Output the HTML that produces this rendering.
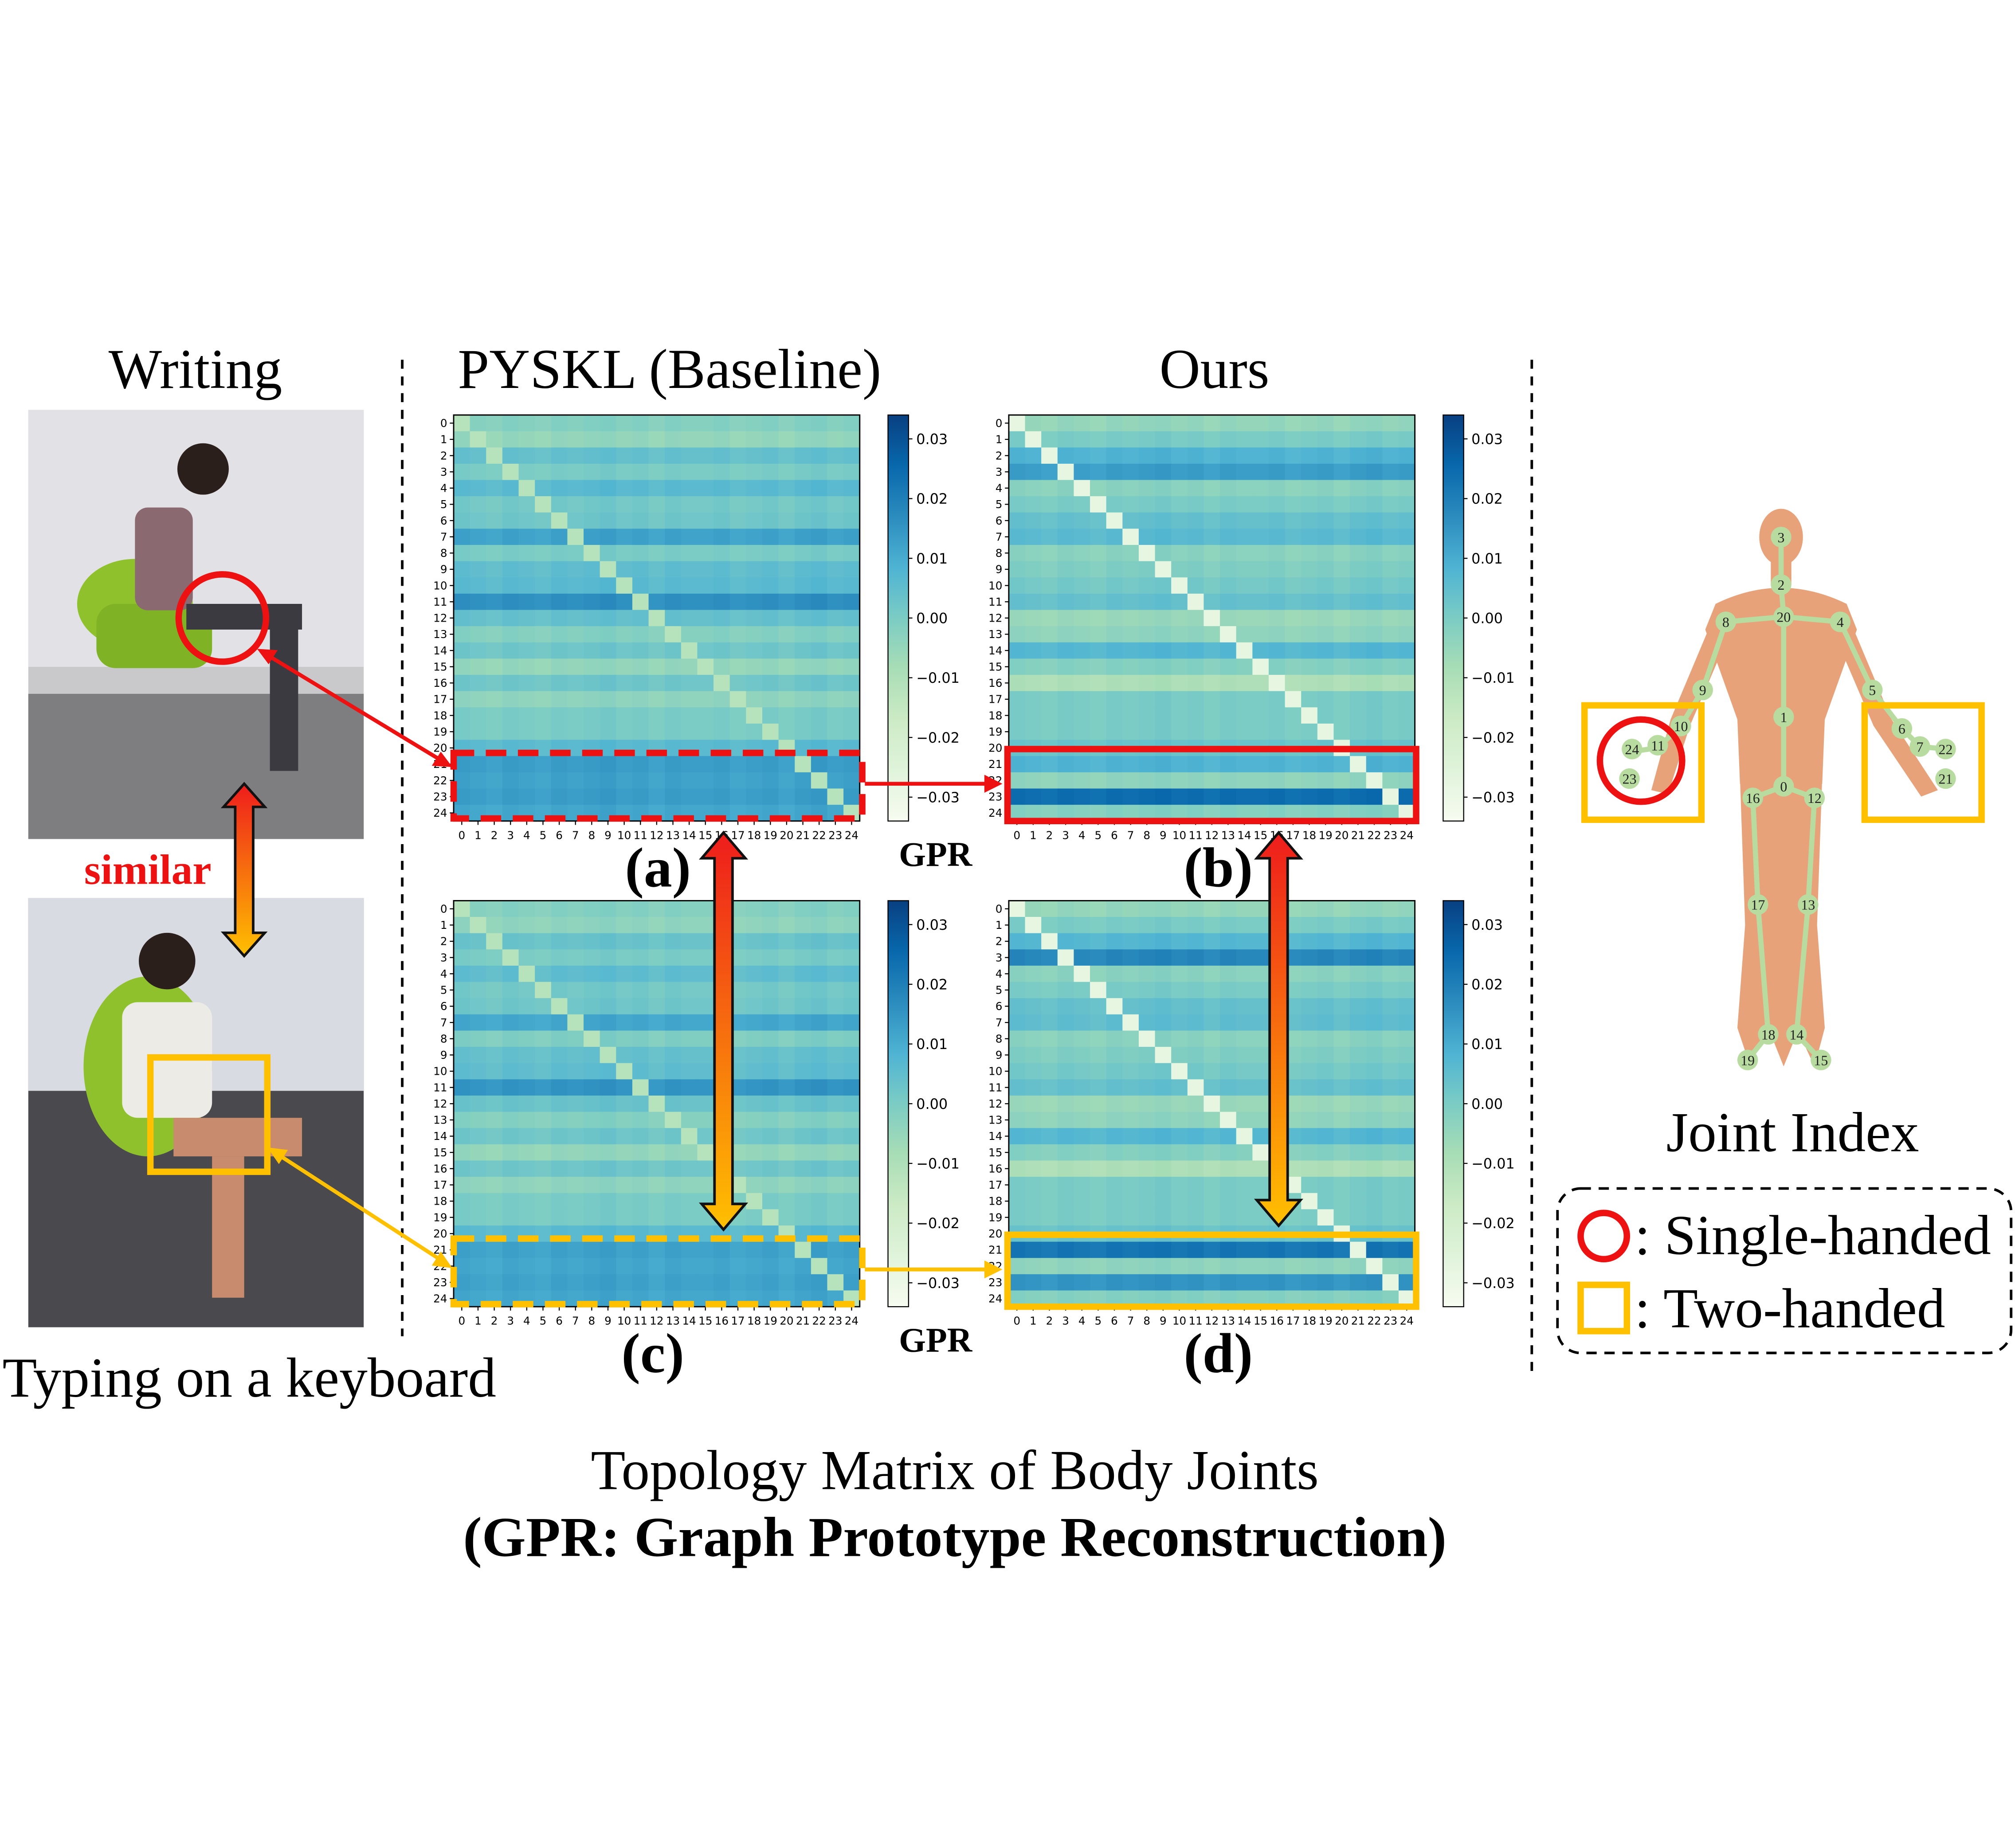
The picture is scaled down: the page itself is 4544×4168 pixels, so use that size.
<!DOCTYPE html>
<html><head><meta charset="utf-8"><style>
html,body{margin:0;padding:0;background:#fff;}
svg{display:block;}
.serif{font-family:"Liberation Serif",serif;}
.sans{font-family:"DejaVu Sans","Liberation Sans",sans-serif;}
</style></head><body>
<svg id="fig" width="4544" height="4168" viewBox="0 0 1568 1438.3" xmlns="http://www.w3.org/2000/svg">
<defs>
<linearGradient id="cbar" x1="0" y1="1" x2="0" y2="0">
<stop offset="0" stop-color="#f7fcf0"/><stop offset="0.125" stop-color="#e0f3db"/><stop offset="0.25" stop-color="#ccebc5"/><stop offset="0.375" stop-color="#a8ddb5"/><stop offset="0.5" stop-color="#7bccc4"/><stop offset="0.625" stop-color="#4eb3d3"/><stop offset="0.75" stop-color="#2b8cbe"/><stop offset="0.875" stop-color="#0868ac"/><stop offset="1" stop-color="#084081"/>
</linearGradient>
<linearGradient id="arrR" x1="0" y1="0" x2="0" y2="1"><stop offset="0" stop-color="#ee1c1c"/><stop offset="1" stop-color="#ffc000"/></linearGradient>
</defs>
<rect width="1568" height="1438.3" fill="#fff"/>
<text class="serif" x="152" y="302" font-size="44" text-anchor="middle">Writing</text>
<text class="serif" x="521" y="302" font-size="44" text-anchor="middle">PYSKL (Baseline)</text>
<text class="serif" x="945" y="302" font-size="44" text-anchor="middle">Ours</text>
<line x1="313" y1="280" x2="313" y2="1040" stroke="#000" stroke-width="2" stroke-dasharray="7,6"/>
<line x1="1192" y1="280" x2="1192" y2="1070" stroke="#000" stroke-width="2" stroke-dasharray="7,6"/>
<g>
<rect x="22" y="319" width="261" height="334" fill="#c9c9cc"/>
<rect x="22" y="319" width="261" height="200" fill="#e2e2e6"/>
<rect x="22" y="540" width="261" height="113" fill="#7e7d80"/>
<ellipse cx="105" cy="470" rx="45" ry="35" fill="#8fc12c"/>
<rect x="75" y="470" width="90" height="50" rx="15" fill="#7fb224"/>
<rect x="105" y="395" width="45" height="80" rx="10" fill="#8a6a70"/>
<circle cx="158" cy="365" r="20" fill="#2a1f1a"/>
<rect x="145" y="470" width="90" height="20" fill="#3b3a40"/>
<rect x="210" y="480" width="22" height="120" fill="#3b3a40"/>
<circle cx="173" cy="481" r="34" fill="none" stroke="#ee1111" stroke-width="5"/>
</g>
<g>
<rect x="22" y="699" width="261" height="334" fill="#4a4a4e"/>
<rect x="22" y="699" width="261" height="150" fill="#d8dbe2"/>
<ellipse cx="115" cy="830" rx="50" ry="70" fill="#8fc12c"/>
<rect x="95" y="780" width="70" height="90" rx="12" fill="#ecebe6"/>
<circle cx="130" cy="748" r="22" fill="#2a1f1a"/>
<rect x="135" y="870" width="100" height="30" fill="#c98b6e"/>
<rect x="165" y="900" width="25" height="110" fill="#c98b6e"/>
<rect x="117" y="823" width="91" height="89" fill="none" stroke="#ffc000" stroke-width="5"/>
</g>
<text class="serif" x="115" y="688" font-size="33" font-weight="bold" fill="#ee1111" text-anchor="middle">similar</text>
<text class="serif" x="194" y="1087" font-size="44" text-anchor="middle">Typing on a keyboard</text>
<g id="heatmaps"></g>
<text class="serif" x="512" y="690" font-size="44" font-weight="bold" text-anchor="middle">(a)</text>
<text class="serif" x="948" y="690" font-size="44" font-weight="bold" text-anchor="middle">(b)</text>
<text class="serif" x="508" y="1068" font-size="44" font-weight="bold" text-anchor="middle">(c)</text>
<text class="serif" x="948" y="1068" font-size="44" font-weight="bold" text-anchor="middle">(d)</text>
<text class="serif" x="728" y="674" font-size="27" font-weight="bold" text-anchor="middle">GPR</text>
<text class="serif" x="728" y="1052" font-size="27" font-weight="bold" text-anchor="middle">GPR</text>
<rect x="353" y="586" width="318" height="51" fill="none" stroke="#ee1111" stroke-width="5" stroke-dasharray="16,9"/>
<rect x="784" y="583" width="318" height="56" fill="none" stroke="#ee1111" stroke-width="5"/>
<rect x="353" y="964" width="318" height="51" fill="none" stroke="#ffc000" stroke-width="5" stroke-dasharray="16,9"/>
<rect x="784" y="961" width="318" height="56" fill="none" stroke="#ffc000" stroke-width="5"/>
<g>
<path d="M563,648 L580,668 L570,668 L570,937 L580,937 L563,957 L546,937 L556,937 L556,668 L546,668 Z" fill="url(#arrR)" stroke="#111" stroke-width="2"/>
</g>
<g>
<path d="M995,648 L1012,668 L1002,668 L1002,934 L1012,934 L995,954 L978,934 L988,934 L988,668 L978,668 Z" fill="url(#arrR)" stroke="#111" stroke-width="2"/>
</g>
<g>
<path d="M190,610 L206,628 L197,628 L197,726 L206,726 L190,744 L174,726 L183,726 L183,628 L174,628 Z" fill="url(#arrR)" stroke="#111" stroke-width="2"/>
</g>
<g>
<line x1="205" y1="508" x2="342" y2="591" stroke="#ee1111" stroke-width="3"/>
<polygon points="352,597 336,596 343,585" fill="#ee1111"/>
<polygon points="200,505 216,506 209,517" fill="#ee1111"/>
</g>
<g>
<line x1="214" y1="897" x2="342" y2="980" stroke="#ffc000" stroke-width="3"/>
<polygon points="352,987 336,985 343,974" fill="#ffc000"/>
<polygon points="208,893 224,895 217,906" fill="#ffc000"/>
</g>
<g>
<line x1="673" y1="610" x2="768" y2="610" stroke="#ee1111" stroke-width="3"/>
<polygon points="780,610 766,603 766,617" fill="#ee1111"/>
</g>
<g>
<line x1="673" y1="988" x2="768" y2="988" stroke="#ffc000" stroke-width="3"/>
<polygon points="780,988 766,981 766,995" fill="#ffc000"/>
</g>
<text class="serif" x="743" y="1159" font-size="44" text-anchor="middle">Topology Matrix of Body Joints</text>
<text class="serif" x="743" y="1211" font-size="44" font-weight="bold" text-anchor="middle">(GPR: Graph Prototype Reconstruction)</text>
<g>
<g fill="#e8a27a">
<ellipse cx="1386" cy="418" rx="17" ry="22"/>
<rect x="1378" y="435" width="16" height="20"/>
<path d="M1335,470 Q1386,445 1437,470 L1445,490 L1420,560 L1418,610 L1354,610 L1352,560 L1327,490 Z"/>
<path d="M1337,472 L1300,560 L1285,615 L1298,618 L1315,565 L1345,495 Z"/>
<path d="M1435,472 L1472,560 L1508,615 L1495,620 L1458,565 L1428,495 Z"/>
<path d="M1354,605 L1418,605 L1410,720 L1400,800 L1388,830 L1376,800 L1366,720 Z"/>
<path d="M1354,605 L1385,620 L1378,720 L1375,800 L1362,830 L1352,800 L1358,720 Z"/>
<path d="M1418,605 L1388,620 L1394,720 L1398,800 L1412,830 L1420,800 L1414,720 Z"/>
</g>
<g stroke="#b8dca0" stroke-width="4" fill="none">
<polyline points="1386,418 1386,455 1388,480 1388,558 1388,612"/>
<polyline points="1343,484 1388,480 1432,484"/>
<polyline points="1343,484 1325,537 1308,565 1290,582 1270,585"/>
<polyline points="1432,484 1457,537 1480,567 1494,581 1514,583"/>
<polyline points="1364,621 1388,612 1412,621"/>
<polyline points="1364,621 1368,704 1376,805 1360,825"/>
<polyline points="1412,621 1407,704 1398,805 1417,825"/>
</g>
<g fill="#b8dca0">
<circle cx="1386" cy="418" r="8"/><circle cx="1386" cy="455" r="8"/><circle cx="1388" cy="480" r="8"/><circle cx="1343" cy="484" r="8"/><circle cx="1432" cy="484" r="8"/><circle cx="1325" cy="537" r="8"/><circle cx="1457" cy="537" r="8"/><circle cx="1388" cy="558" r="8"/><circle cx="1308" cy="565" r="8"/><circle cx="1480" cy="567" r="8"/><circle cx="1290" cy="580" r="8"/><circle cx="1270" cy="583" r="8"/><circle cx="1268" cy="606" r="8"/><circle cx="1494" cy="581" r="8"/><circle cx="1514" cy="583" r="8"/><circle cx="1514" cy="606" r="8"/><circle cx="1388" cy="612" r="8"/><circle cx="1364" cy="621" r="8"/><circle cx="1412" cy="621" r="8"/><circle cx="1368" cy="704" r="8"/><circle cx="1407" cy="704" r="8"/><circle cx="1376" cy="805" r="8"/><circle cx="1398" cy="805" r="8"/><circle cx="1360" cy="825" r="8"/><circle cx="1417" cy="825" r="8"/>
</g>
<g font-family="Liberation Serif,serif" font-size="11" text-anchor="middle" fill="#222">
<text x="1386" y="422">3</text><text x="1386" y="459">2</text><text x="1388" y="484">20</text><text x="1343" y="488">8</text><text x="1432" y="488">4</text><text x="1325" y="541">9</text><text x="1457" y="541">5</text><text x="1388" y="562">1</text><text x="1308" y="569">10</text><text x="1480" y="571">6</text><text x="1290" y="584">11</text><text x="1270" y="587">24</text><text x="1268" y="610">23</text><text x="1494" y="585">7</text><text x="1514" y="587">22</text><text x="1514" y="610">21</text><text x="1388" y="616">0</text><text x="1364" y="625">16</text><text x="1412" y="625">12</text><text x="1368" y="708">17</text><text x="1407" y="708">13</text><text x="1376" y="809">18</text><text x="1398" y="809">14</text><text x="1360" y="829">19</text><text x="1417" y="829">15</text>
</g>
<rect x="1233" y="549" width="91" height="89" fill="none" stroke="#ffc000" stroke-width="5"/>
<rect x="1451" y="549" width="91" height="89" fill="none" stroke="#ffc000" stroke-width="5"/>
<circle cx="1277" cy="592" r="32" fill="none" stroke="#ee1111" stroke-width="5"/>
</g>
<text class="serif" x="1395" y="896" font-size="44" text-anchor="middle">Joint Index</text>
<g>
<rect x="1212" y="925" width="353" height="128" rx="18" fill="none" stroke="#000" stroke-width="2" stroke-dasharray="8,6"/>
<circle cx="1248" cy="962" r="18" fill="none" stroke="#ee1111" stroke-width="5"/>
<text class="serif" x="1272" y="976" font-size="44">: Single-handed</text>
<rect x="1230" y="1000" width="36" height="36" fill="none" stroke="#ffc000" stroke-width="5"/>
<text class="serif" x="1272" y="1033" font-size="44">: Two-handed</text>
</g>
</svg>
<script>
const labels = ["0","1","2","3","4","5","6","7","8","9","10","11","12","13","14","15","16","17","18","19","20","21","22","23","24"];
const rowsA = [-2,-5,4,0,6,1,2,12,0,5,6,16,4,-2,2,-5,2,-4,0,0,6,13,12,13,11];
const rowsB = [-5,0,8,13,-3,0,4,6,-3,-1,1,4,-6,-4,7,-2,-10,0,0,0,3,8,-4,24,-2];
const rowsC = [-2,-4,3,0,5,1,2,11,-1,4,5,15,3,-2,2,-5,2,-4,0,0,6,12,11,12,11];
const rowsD = [-5,0,7,18,-3,0,4,5,-3,-1,1,4,-6,-4,7,-2,-10,0,0,0,3,22,-4,15,-2];
const diagA = -12, diagB = -28, diagC = -12, diagD = -28;
const colNoise = [1,0,-1,1,0,-1,1,0,1,2,0,1,-1,1,0,0,1,-1,0,1,-1,1,2,0,1];
const cbTicks = [0.03,0.02,0.01,0.00,-0.01,-0.02,-0.03];
const cbLabels = ["0.03","0.02","0.01","0.00","\u22120.01","\u22120.02","\u22120.03"];
const stops = ["#f7fcf0","#e0f3db","#ccebc5","#a8ddb5","#7bccc4","#4eb3d3","#2b8cbe","#0868ac","#084081"];
const VMIN=-0.034, VMAX=0.034;
function hex(c){return [1,3,5].map(i=>parseInt(c.substr(i,2),16));}
function cmap(v){let t=(v-VMIN)/(VMAX-VMIN);t=Math.max(0,Math.min(1,t))*(stops.length-1);const i=Math.min(stops.length-2,Math.floor(t));const f=t-i;const a=hex(stops[i]),b=hex(stops[i+1]);return "rgb("+a.map((x,k)=>Math.round(x+(b[k]-x)*f)).join(",")+")";}
const NS="http://www.w3.org/2000/svg";
function mk(tag,attrs,parent){const e=document.createElementNS(NS,tag);for(const k in attrs)e.setAttribute(k,attrs[k]);parent.appendChild(e);return e;}
const root=document.getElementById("heatmaps");
function heatmap(name,x0,y0,rows,diag){
  const g=mk("g",{},root);
  
  
  const W=316, n=labels.length, cs=W/n;
  const xs=i=>x0+i*cs, ys=j=>y0+j*cs;
  for(let r=0;r<n;r++){for(let c=0;c<n;c++){
    const v=(r===c?diag:rows[r]+colNoise[c]*0.8)/1000;
    const cell=mk("rect",{x:xs(c).toFixed(2),y:ys(r).toFixed(2),width:(cs+0.3).toFixed(2),height:(cs+0.3).toFixed(2),fill:cmap(v)},g);
    
    
  }}
  mk("rect",{x:x0,y:y0,width:W,height:W,fill:"none",stroke:"#000","stroke-width":1},g);
  for(let i=0;i<n;i++){
    mk("line",{x1:x0-3,x2:x0,y1:ys(i)+cs/2,y2:ys(i)+cs/2,stroke:"#000","stroke-width":0.8},g);
    const t=mk("text",{x:x0-5,y:ys(i)+cs/2+3,"font-size":8.5,"text-anchor":"end","class":"sans"},g);t.textContent=labels[i];
    
    
    mk("line",{x1:xs(i)+cs/2,x2:xs(i)+cs/2,y1:y0+W,y2:y0+W+3,stroke:"#000","stroke-width":0.8},g);
    const u=mk("text",{x:xs(i)+cs/2,y:y0+W+14,"font-size":8.5,"text-anchor":"middle","class":"sans"},g);u.textContent=labels[i];
    
    
  }
  const cx=x0+338, cw=16;
  const cb=mk("rect",{x:cx,y:y0,width:cw,height:W,fill:"url(#cbar)",stroke:"#000","stroke-width":0.8},g);
  
  
  const vy=v=>y0+(VMAX-v)/(VMAX-VMIN)*W;
  cbTicks.forEach((v,i)=>{
    mk("line",{x1:cx+cw,x2:cx+cw+3,y1:vy(v),y2:vy(v),stroke:"#000","stroke-width":0.8},g);
    const t=mk("text",{x:cx+cw+6,y:vy(v)+4,"font-size":11,"class":"sans"},g);t.textContent=cbLabels[i];
    
    
  });
}
heatmap("a",353,323,rowsA,diagA);
heatmap("b",785,323,rowsB,diagB);
heatmap("c",353,701,rowsC,diagC);
heatmap("d",785,701,rowsD,diagD);
</script>
</body></html>
